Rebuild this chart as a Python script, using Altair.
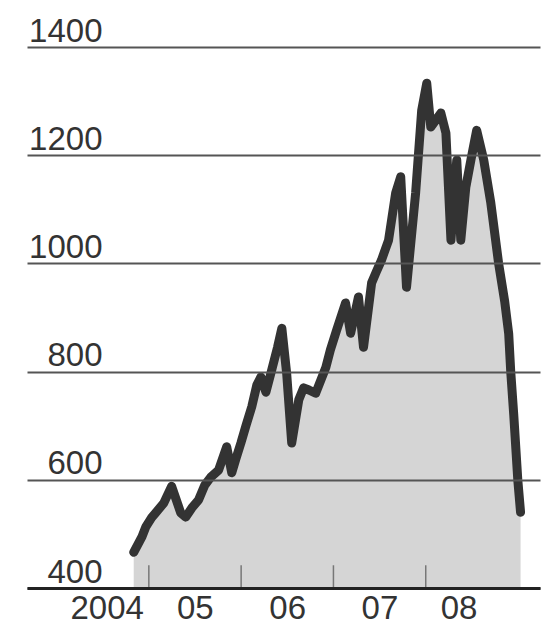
import altair as alt
import pandas as pd

# Index level, late 2004 to end of 2008
dates = [
    "2004-11-02", "2004-12-05", "2004-12-20", "2005-01-12", "2005-01-28",
    "2005-03-01", "2005-04-01", "2005-04-18", "2005-05-07", "2005-05-27",
    "2005-06-20", "2005-07-17", "2005-08-10", "2005-09-03", "2005-10-04",
    "2005-11-05", "2005-11-25", "2005-12-12", "2005-12-31", "2006-01-20",
    "2006-02-12", "2006-03-04", "2006-03-20", "2006-04-09", "2006-05-02",
    "2006-05-25", "2006-06-11", "2006-06-30", "2006-07-20", "2006-08-17",
    "2006-09-05", "2006-09-26", "2006-10-23", "2006-12-02", "2006-12-20",
    "2007-01-14", "2007-02-18", "2007-03-10", "2007-04-10", "2007-04-30",
    "2007-06-01", "2007-06-20", "2007-07-10", "2007-08-07", "2007-09-04",
    "2007-09-24", "2007-10-17", "2007-11-22", "2007-12-16", "2008-01-05",
    "2008-01-21", "2008-02-10", "2008-03-01", "2008-03-21", "2008-04-10",
    "2008-05-03", "2008-05-19", "2008-06-08", "2008-06-28", "2008-07-21",
    "2008-08-18", "2008-09-15", "2008-10-16", "2008-11-09", "2008-11-25",
    "2008-12-03", "2008-12-15", "2008-12-31", "2009-01-11",
]
values = [
    466, 495, 513, 530, 539,
    557, 588, 565, 539, 531,
    548, 563, 590, 605, 618,
    661, 613, 640, 668, 700,
    735, 775, 790, 762, 803,
    845, 880, 797, 668, 748,
    770, 766, 760, 808, 840,
    877, 927, 871, 938, 845,
    964, 985, 1006, 1043, 1130,
    1160, 956, 1130, 1283, 1333,
    1252, 1265, 1278, 1241, 1043,
    1191, 1043, 1141, 1191, 1246,
    1191, 1112, 1000, 930, 870,
    800, 720, 600, 540,
]

# Year boundaries marked on the baseline, and where each year label sits
year_starts = ["2005-01-01", "2006-01-01", "2007-01-01", "2008-01-01"]
label_dates = ["2004-07-18", "2005-07-02", "2006-07-02", "2007-07-02", "2008-05-10"]
y_ticks = [400, 600, 800, 1000, 1200, 1400]


def decimal_year(strings):
    d = pd.to_datetime(pd.Series(strings))
    days = 365 + d.dt.is_leap_year.astype(int)
    return (d.dt.year + (d.dt.dayofyear - 1) / days).round(4).tolist()


series = pd.DataFrame({"t": decimal_year(dates), "v": values})
ticks = pd.DataFrame({"t": decimal_year(year_starts)})
label_pos = decimal_year(label_dates)

FONT = "Liberation Sans"
INK = "#333333"

x_scale = alt.Scale(domain=[2003.68, 2009.238], nice=False, zero=False)
y_scale = alt.Scale(domain=[400, 1400], nice=False, zero=False)

x_axis = alt.Axis(
    values=label_pos,
    labelExpr="floor(datum.value) == 2004 ? '2004' : '0' + (floor(datum.value) - 2000)",
    ticks=False,
    grid=False,
    domain=True,
    domainColor="#222222",
    domainWidth=3,
    labelFont=FONT,
    labelFontSize=33,
    labelColor=INK,
    labelPadding=4,
    labelBaseline="top",
    title=None,
    zindex=1,
)

y_axis = alt.Axis(
    values=y_ticks,
    format="d",
    grid=True,
    gridColor="#555555",
    gridWidth=2,
    domain=False,
    ticks=False,
    tickSize=0,
    labelFont=FONT,
    labelFontSize=33,
    labelColor=INK,
    labelAlign="right",
    labelBaseline="alphabetic",
    labelPadding=-75,
    labelOffset=-6,
    title=None,
    zindex=1,
)

base = alt.Chart(series)

area = base.mark_area(color="#d5d5d5").encode(
    x=alt.X("t:Q", scale=x_scale, axis=x_axis),
    y=alt.Y("v:Q", scale=y_scale, axis=y_axis),
    y2=alt.datum(400),
)

line = base.mark_line(
    color="#333333", strokeWidth=9, strokeJoin="round", strokeCap="round"
).encode(
    x=alt.X("t:Q", scale=x_scale),
    y=alt.Y("v:Q", scale=y_scale),
)

year_marks = alt.Chart(ticks).mark_rule(color="#777777", strokeWidth=1.5).encode(
    x=alt.X("t:Q", scale=x_scale),
    y=alt.datum(400),
    y2=alt.datum(442),
)

chart = (
    alt.layer(area, year_marks, line)
    .properties(
        width=513,
        height=541,
        autosize=alt.AutoSizeParams(type="none"),
        padding={"left": 27, "top": 47, "right": 3, "bottom": 42},
        background="white",
    )
    .configure_view(stroke=None)
)

chart.save("out.html", embed_options={"renderer": "svg", "actions": False})
